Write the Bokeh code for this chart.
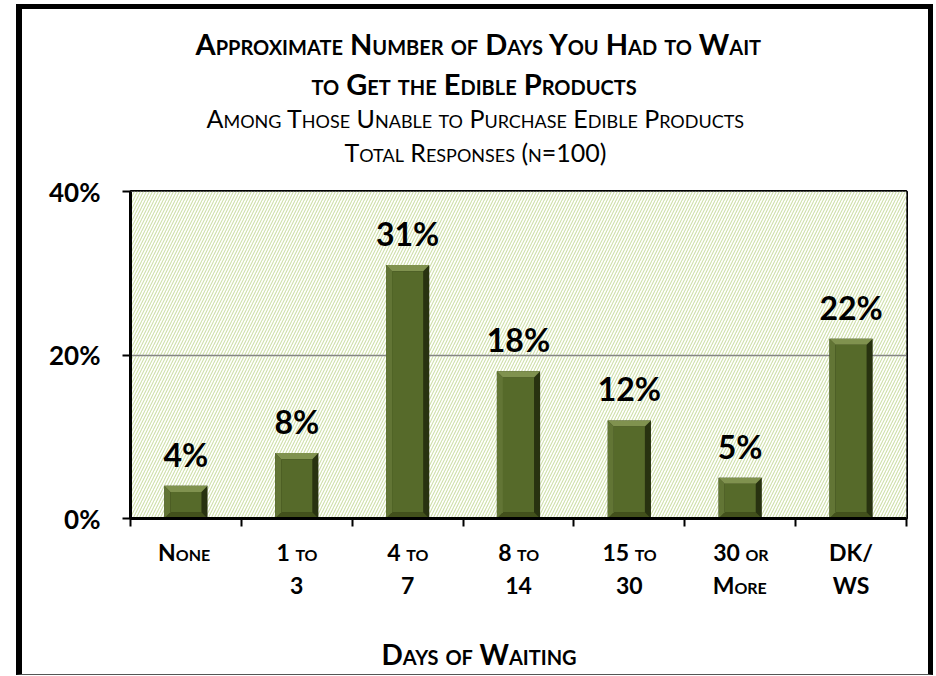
from bokeh.plotting import figure
from bokeh.models import (Range1d, FixedTicker, PrintfTickFormatter, ColumnDataSource,
                          LabelSet, Title, BoxAnnotation, Spacer)
from bokeh.layouts import column, row
from bokeh.core.properties import value
from bokeh.embed import file_html
from bokeh.resources import INLINE

# ---- data ----
title_lines = ["Approximate Number of Days You Had to Wait", "to Get the Edible Products"]
subtitle_lines = ["Among Those Unable to Purchase Edible Products", "Total Responses (n=100)"]
categories = ["None", "1 to 3", "4 to 7", "8 to 14", "15 to 30", "30 or More", "DK/WS"]
tick_labels = ["None", "1 to\n3", "4 to\n7", "8 to\n14", "15 to\n30", "30 or\nMore", "DK/\nWS"]
values = [4, 8, 31, 18, 12, 5, 22]
y_ticks = [0, 20, 40]
x_axis_title = "Days of Waiting"

FONT = "Lato"
n = len(categories)
xs = [i + 0.5 for i in range(n)]
bounds = list(range(n + 1))

p = figure(width=917, height=671, output_backend="svg", toolbar_location=None,
           x_range=Range1d(0, n), y_range=Range1d(0, 40),
           min_border_left=108, min_border_right=33, min_border_top=182, min_border_bottom=162,
           styles={"font-variant": "small-caps",
                   "border-left": "6px solid black", "border-top": "5px solid black",
                   "border-right": "5px solid black", "border-bottom": "1px solid #555"})
p.background_fill_color = "white"
p.border_fill_color = "white"
p.outline_line_color = "black"
p.outline_line_width = 3

# hatched background
p.add_layout(BoxAnnotation(level="image", fill_color="white", fill_alpha=1.0, line_alpha=0,
                           hatch_pattern="/", hatch_color="#cfe0aa", hatch_scale=6,
                           hatch_weight=1.1))

# bars with bevel
W = 0.39
BX = 0.055
BY = 0.75
p.vbar(x=xs, top=values, width=W, fill_color="#283210", line_color=None)

bot_x, bot_y, left_x, left_y, top_x, top_y = [], [], [], [], [], []
for c, v in zip(xs, values):
    x0, x1 = c - W / 2, c + W / 2
    bot_x.append([x0, x1, x1 - BX, x0 + BX]); bot_y.append([0, 0, BY, BY])
    left_x.append([x0, x0, x0 + BX, x0 + BX]); left_y.append([0, v, v - BY, BY])
    top_x.append([x0, x1, x1 - BX, x0 + BX]); top_y.append([v, v, v - BY, v - BY])
p.patches(xs=bot_x, ys=bot_y, fill_color="#43511c", line_color=None)
p.patches(xs=left_x, ys=left_y, fill_color="#627535", line_color=None)
p.patches(xs=top_x, ys=top_y, fill_color="#80924f", line_color=None)
p.quad(left=[c - W / 2 + BX for c in xs], right=[c + W / 2 - BX for c in xs],
       bottom=[BY] * n, top=[v - BY for v in values], fill_color="#566a2a", line_color=None)

# value labels
src = ColumnDataSource(dict(x=xs, top=values, label=[f"{v}%" for v in values]))
p.add_layout(LabelSet(x="x", y="top", text="label", source=src, text_align="center",
                      text_baseline="alphabetic", y_offset=19, text_font=value(FONT),
                      text_font_style="bold", text_font_size="32px", text_color="black"))

# axes
p.yaxis.ticker = FixedTicker(ticks=y_ticks)
p.yaxis.formatter = PrintfTickFormatter(format="%d%%")
p.yaxis.major_label_text_font = FONT
p.yaxis.major_label_text_font_style = "bold"
p.yaxis.major_label_text_font_size = "26px"
p.yaxis.major_label_text_color = "black"
p.yaxis.axis_line_width = 3
p.yaxis.axis_line_color = "black"
p.yaxis.major_tick_in = 0
p.yaxis.major_tick_out = 8
p.yaxis.major_tick_line_width = 2
p.yaxis.minor_tick_line_color = None
p.yaxis.major_label_standoff = 22

p.xaxis.ticker = FixedTicker(ticks=xs, minor_ticks=bounds)
p.xaxis.major_label_overrides = dict(zip(xs, tick_labels))
p.xaxis.major_tick_line_color = None
p.xaxis.minor_tick_line_color = "black"
p.xaxis.minor_tick_line_width = 2
p.xaxis.minor_tick_in = 0
p.xaxis.minor_tick_out = 8
p.xaxis.axis_line_width = 3
p.xaxis.axis_line_color = "black"
p.xaxis.major_label_text_font = FONT
p.xaxis.major_label_text_font_style = "bold"
p.xaxis.major_label_text_font_size = "23px"
p.xaxis.major_label_text_color = "black"
p.xaxis.major_label_text_line_height = 1.2
p.xaxis.major_label_standoff = 11

p.xgrid.visible = False
p.ygrid.ticker = FixedTicker(ticks=y_ticks)
p.ygrid.grid_line_color = "#868686"
p.ygrid.grid_line_width = 1.5


def spacer_title(standoff):
    return Title(text=" ", text_font=FONT, text_font_size="10px", standoff=standoff)


# x axis title, below (spacer panel first, then the text)
p.add_layout(spacer_title(18), "below")
p.add_layout(Title(text=x_axis_title, align="left", offset=251, text_font=FONT,
                   text_font_style="bold", text_font_size="28px", text_color="black",
                   standoff=0), "below")

# heading lines, above (added nearest-to-frame first)
p.add_layout(spacer_title(9), "above")
specs = [(subtitle_lines[1], "normal", "25px", 4, 214),
         (subtitle_lines[0], "normal", "25px", 0, 76),
         (title_lines[1], "bold", "29px", 0, 181),
         (title_lines[0], "bold", "29px", 6, 65)]
for text, style, size, standoff, off in specs:
    p.add_layout(Title(text=text, align="left", offset=off, text_font=FONT,
                       text_font_style=style, text_font_size=size, text_color="black",
                       standoff=standoff), "above")

layout = column(Spacer(height=4), row(Spacer(width=16), p))
open("out.html", "w").write(file_html(layout, INLINE))
